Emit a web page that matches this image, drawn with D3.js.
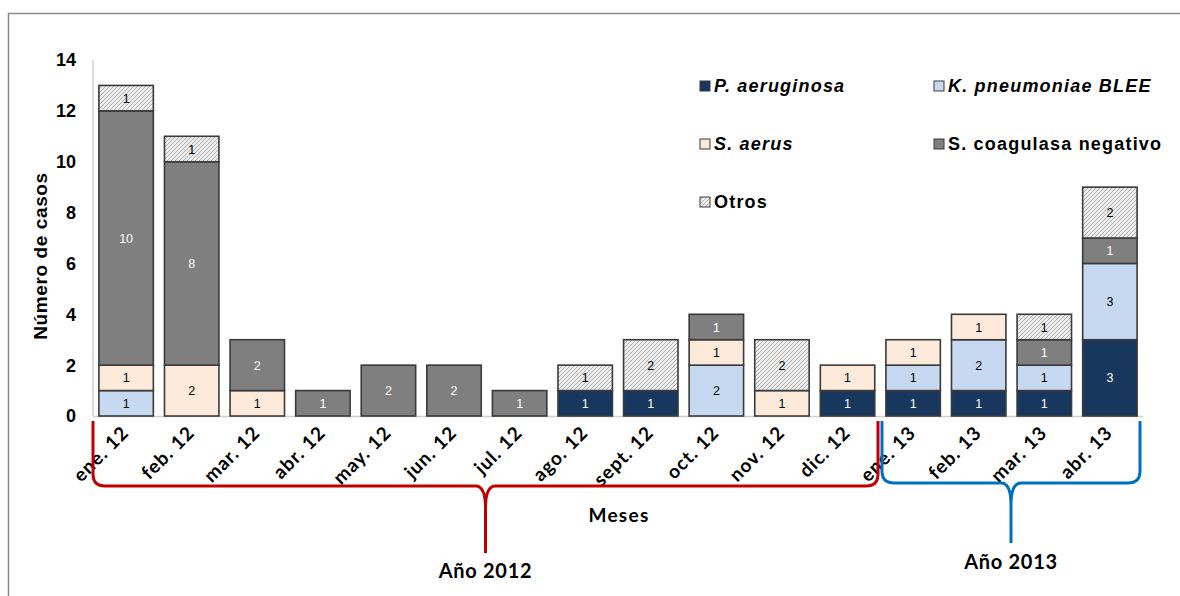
<!DOCTYPE html>
<html>
<head>
<meta charset="utf-8">
<script src="https://cdn.jsdelivr.net/npm/d3@7"></script>
<style>
  body { margin: 0; background: #fff; }
  svg { display: block; }
</style>
</head>
<body>
<svg id="chart" width="1180" height="596"></svg>
<script>
// Monthly cases by organism, Jan 2012 – Apr 2013
const months = ["ene. 12", "feb. 12", "mar. 12", "abr. 12", "may. 12", "jun. 12", "jul. 12",
  "ago. 12", "sept. 12", "oct. 12", "nov. 12", "dic. 12", "ene. 13", "feb. 13", "mar. 13", "abr. 13"];
const seriesNames = ["P. aeruginosa", "K. pneumoniae BLEE", "S. aerus", "S. coagulasa negativo", "Otros"];
const pAeruginosa = [0, 0, 0, 0, 0, 0, 0, 1, 1, 0, 0, 1, 1, 1, 1, 3];
const kPneumoniae = [1, 0, 0, 0, 0, 0, 0, 0, 0, 2, 0, 0, 1, 2, 1, 3];
const sAerus      = [1, 2, 1, 0, 0, 0, 0, 0, 0, 1, 1, 1, 1, 1, 0, 0];
const sCoagulasa  = [10, 8, 2, 1, 2, 2, 1, 0, 0, 1, 0, 0, 0, 0, 1, 1];
const otros       = [1, 1, 0, 0, 0, 0, 0, 1, 2, 0, 2, 0, 0, 0, 1, 2];
const yTicks = [0, 2, 4, 6, 8, 10, 12, 14];
const yearGroups = [
  { label: "Año 2012", from: "ene. 12", to: "dic. 12" },
  { label: "Año 2013", from: "ene. 13", to: "abr. 13" }
];

const seriesValues = [pAeruginosa, kPneumoniae, sAerus, sCoagulasa, otros];
const fills = ["#17375E", "#C6D9F1", "#FDEADA", "#7F7F7F", "url(#hatch)"];
const labelColors = ["#ffffff", "#000000", "#000000", "#ffffff", "#000000"];
const italic = [true, true, true, false, false];

const svg = d3.select("#chart");

// hatch pattern for "Otros"
const defs = svg.append("defs");
const pat = defs.append("pattern").attr("id", "hatch")
  .attr("patternUnits", "userSpaceOnUse").attr("width", 4).attr("height", 4);
pat.append("rect").attr("width", 4).attr("height", 4).attr("fill", "#efefef");
pat.append("path").attr("d", "M-1,1 L1,-1 M0,4 L4,0 M3,5 L5,3")
  .attr("stroke", "#a8a8a8").attr("stroke-width", 0.9);

// outer frame
svg.append("path").attr("d", "M8.5,596 L8.5,13.5 L1180,13.5")
  .attr("fill", "none").attr("stroke", "#8a8a8a").attr("stroke-width", 1.5);

const margin = { left: 93, right: 1143, top: 60, bottom: 416 };
const x = d3.scaleBand().domain(months).range([margin.left, margin.right]).paddingInner(0.17).paddingOuter(0.09);
const y = d3.scaleLinear().domain([0, 14]).range([margin.bottom, margin.top]);

// axis lines
svg.append("line").attr("x1", margin.left).attr("x2", margin.left)
  .attr("y1", margin.top).attr("y2", margin.bottom)
  .attr("stroke", "#d0d0d0").attr("stroke-width", 1.5);
svg.append("line").attr("x1", margin.left).attr("x2", margin.right)
  .attr("y1", margin.bottom + 0.5).attr("y2", margin.bottom + 0.5)
  .attr("stroke", "#d0d0d0").attr("stroke-width", 1.5);

// y tick labels
svg.append("g").selectAll("text").data(yTicks).join("text")
  .attr("x", 76).attr("y", d => y(d)).attr("dy", "0.36em")
  .attr("text-anchor", "end")
  .attr("font-family", "Liberation Sans, Arial, sans-serif")
  .attr("font-weight", "bold").attr("font-size", 18).attr("fill", "#000")
  .text(d => d);

// y title
svg.append("text")
  .attr("x", 0).attr("y", 0)
  .attr("transform", "translate(47,256) rotate(-90)")
  .attr("text-anchor", "middle")
  .attr("font-family", "Liberation Sans, Arial, sans-serif")
  .attr("font-weight", "bold").attr("font-size", 19).attr("letter-spacing", 0.6)
  .text("Número de casos");

// stacked bars
const table = months.map((m, i) => {
  const row = { month: m };
  seriesNames.forEach((s, k) => row[s] = seriesValues[k][i]);
  return row;
});
const stacked = d3.stack().keys(seriesNames)(table);

const barG = svg.append("g");
stacked.forEach((layer, k) => {
  const segs = layer.map((d, i) => ({ d, i, v: seriesValues[k][i] })).filter(s => s.v > 0);
  barG.selectAll(null).data(segs).join("rect")
    .attr("x", s => x(months[s.i])).attr("width", x.bandwidth())
    .attr("y", s => y(s.d[1])).attr("height", s => y(s.d[0]) - y(s.d[1]))
    .attr("fill", fills[k]).attr("stroke", "#3a3a3a").attr("stroke-width", 1.6);
  barG.selectAll(null).data(segs).join("text")
    .attr("x", s => x(months[s.i]) + x.bandwidth() / 2)
    .attr("y", s => (y(s.d[0]) + y(s.d[1])) / 2).attr("dy", "0.36em")
    .attr("text-anchor", "middle")
    .attr("font-family", "Liberation Sans, Arial, sans-serif")
    .attr("font-size", 12.5)
    .attr("fill", labelColors[k])
    .text(s => s.v);
});

// x tick labels, slanted
svg.append("g").selectAll("text").data(months).join("text")
  .each(function (d) {
    const cx = x(d) + x.bandwidth() / 2 + 4, cy = 434;
    d3.select(this).attr("x", cx).attr("y", cy)
      .attr("transform", `rotate(-45 ${cx} ${cy})`);
  })
  .attr("text-anchor", "end")
  .attr("font-family", "Lato, Open Sans, sans-serif")
  .attr("font-weight", "bold").attr("font-size", 19).attr("letter-spacing", 1)
  .attr("fill", "#000")
  .text(d => d);

// x title
svg.append("text").attr("x", 619).attr("y", 522).attr("text-anchor", "middle")
  .attr("font-family", "Lato, Open Sans, sans-serif")
  .attr("font-weight", "bold").attr("font-size", 19).attr("letter-spacing", 1.3)
  .text("Meses");

// year braces
function brace(x0, x1, yTop, yH, yTip) {
  const xm = (x0 + x1) / 2, r = 12;
  return `M${x0},${yTop} L${x0},${yH - r} Q${x0},${yH} ${x0 + r},${yH} L${xm - 10},${yH}
    Q${xm},${yH} ${xm},${yH + 22} L${xm},${yTip}
    M${xm},${yH + 22} Q${xm},${yH} ${xm + 10},${yH} L${x1 - r},${yH} Q${x1},${yH} ${x1},${yH - r} L${x1},${yTop}`;
}
const braceColors = ["#C00000", "#0070C0"];
const braceGeom = [
  { yH: 486, yTip: 553, textY: 578, x0: margin.left, x1: 878 },
  { yH: 483, yTip: 543, textY: 569, x0: 882, x1: 1140 }
];
yearGroups.forEach((g, i) => {
  const b = braceGeom[i];
  svg.append("path").attr("d", brace(b.x0, b.x1, 421, b.yH, b.yTip))
    .attr("fill", "none").attr("stroke", braceColors[i]).attr("stroke-width", 3)
    .attr("stroke-linejoin", "round");
  svg.append("text").attr("x", (b.x0 + b.x1) / 2).attr("y", b.textY).attr("text-anchor", "middle")
    .attr("font-family", "Lato, Open Sans, sans-serif")
    .attr("font-weight", "bold").attr("font-size", 20).attr("letter-spacing", 0.7)
    .text(g.label);
});

// legend
const legendPos = [[700, 86], [934, 86], [700, 144], [934, 144], [700, 202]];
seriesNames.forEach((s, k) => {
  const [lx, ly] = legendPos[k];
  svg.append("rect").attr("x", lx).attr("y", ly - 5).attr("width", 10).attr("height", 10)
    .attr("fill", fills[k]).attr("stroke", "#3a3a3a").attr("stroke-width", 1);
  svg.append("text").attr("x", lx + 14).attr("y", ly).attr("dy", "0.36em")
    .attr("font-family", "Liberation Sans, Arial, sans-serif")
    .attr("font-weight", "bold").attr("font-size", 18).attr("letter-spacing", 1.2)
    .attr("font-style", italic[k] ? "italic" : "normal")
    .text(s);
});
</script>
</body>
</html>
